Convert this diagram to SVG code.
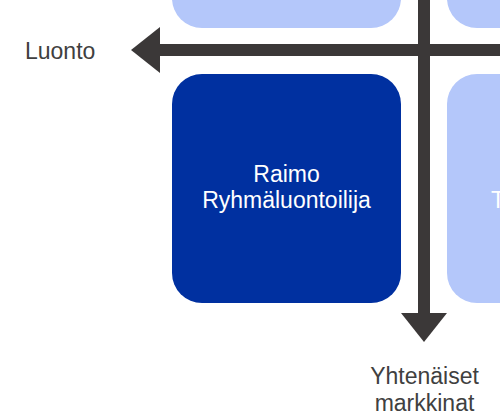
<svg xmlns="http://www.w3.org/2000/svg" width="500" height="417" viewBox="0 0 500 417">
<style>
.light{fill:#b4c7fa}
.dark{fill:#0030a0}
.arrow{fill:#3b3838}
.lbl{font-family:"Liberation Sans",Arial,sans-serif;font-size:23px;fill:#404040}
.wt{font-family:"Liberation Sans",Arial,sans-serif;font-size:23px;fill:#ffffff}
</style>
<rect width="500" height="417" fill="#ffffff"/>
<g id="node-top-left"><rect class="light" x="172" y="-201" width="229" height="229" rx="30"/></g>
<g id="node-top-right"><rect class="light" x="447" y="-201" width="229" height="229" rx="30"/></g>
<g id="node-right"><rect class="light" x="447" y="74" width="229" height="229" rx="30"/><text class="wt" x="491" y="208">T</text></g>
<g id="node-raimo"><rect class="dark" x="172" y="74" width="229" height="229" rx="30"/><text class="wt" x="286.5" y="182" text-anchor="middle">Raimo</text><text class="wt" x="286.5" y="208" text-anchor="middle">Ryhmäluontoilija</text></g>
<g id="connectors">
<rect class="arrow" x="159" y="44" width="341" height="12"/>
<polygon class="arrow" points="131,50 160,27 160,73"/>
<rect class="arrow" x="418" y="0" width="12" height="314"/>
<polygon class="arrow" points="401,313 447,313 424,342"/>
</g>
<g id="labels">
<text class="lbl" x="25" y="59">Luonto</text>
<text class="lbl" x="424.5" y="384" text-anchor="middle">Yhtenäiset</text>
<text class="lbl" x="424.5" y="411" text-anchor="middle">markkinat</text>
</g>
</svg>
